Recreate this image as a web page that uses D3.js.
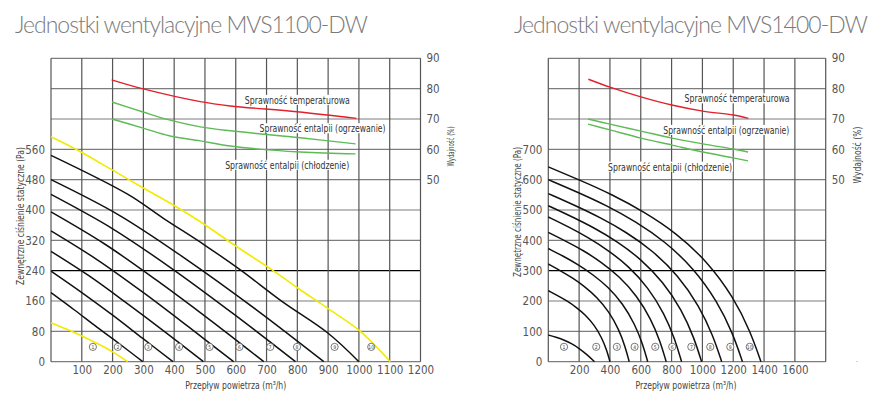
<!DOCTYPE html>
<html><head><meta charset="utf-8">
<script src="https://cdn.jsdelivr.net/npm/d3@7"></script>
<style>body{margin:0;background:#fff;} svg{display:block;}</style>
</head><body>
<svg id="c" width="881" height="399"></svg>
<script>
// ---------------- DATA ----------------
const titles = ["Jednostki wentylacyjne MVS1100-DW", "Jednostki wentylacyjne MVS1400-DW"];
const xTitle = "Przepływ powietrza (m³/h)";
const yTitle = "Zewnętrzne ciśnienie statyczne (Pa)";
const effTitle = "Wydajność (%)";
const effNames = ["Sprawność temperaturowa", "Sprawność entalpii (ogrzewanie)", "Sprawność entalpii (chłodzenie)"];
const effTicks = [90, 80, 70, 60, 50];

// Chart A: MVS1100-DW
const aXTicks = [100, 200, 300, 400, 500, 600, 700, 800, 900, 1000, 1100, 1200];
const aYTicks = [0, 80, 160, 240, 320, 400, 480, 560];
const aYellowLow = [[0,103],[50,86],[100,68],[150,48],[200,26],[249,0]];
const aYellowHigh = [[0,593],[81,560],[200,505],[300,458],[400,412],[485,369],[600,305],[718,242],[800,195],[900,140],[1000,83],[1102,0]];
const aFans = [
  [[0,182],[75,137],[149,91],[224,46],[298,0]],
  [[0,239],[99,183],[198,124],[297,62],[396,0]],
  [[0,291],[124,226],[248,153],[371,78],[495,0]],
  [[0,345],[148,270],[297,184],[445,93],[593,0]],
  [[0,395],[173,311],[346,213],[518,109],[691,0]],
  [[0,441],[199,351],[397,243],[596,124],[794,0]],
  [[0,480],[222,386],[443,268],[665,138],[886,0]],
  [[0,544],[250,441],[365,378],[500,307],[615,242],[750,159],[900,75],[1000,0]]
];
const aMarkers = [136, 217, 316, 416, 515, 612, 712, 799, 921, 1040];
const aTemp = [[197,82.9],[300,79.9],[485,75.7],[582,74.3],[799,72.4],[992,70.2]];
const aHeat = [[198,75.6],[299,72.3],[387,69.6],[485,67.4],[582,66.1],[810,63.8],[989,61.8]];
const aCool = [[198,70.0],[299,67.0],[387,64.4],[485,62.8],[582,61.1],[810,59.1],[989,58.5]];

// Chart B: MVS1400-DW
const bXTicks = [200, 400, 600, 800, 1000, 1200, 1400, 1600];
const bYTicks = [0, 100, 200, 300, 400, 500, 600, 700];
const bFans = [
  [[0,88],[50,81],[100,72],[150,60],[200,44],[250,24],[300,0]],
  [[0,234],[60,218],[120,201],[180,180],[240,155],[300,120],[348,78],[380,37],[400,0]],
  [[0,322],[79,300],[158,276],[236,248],[315,213],[394,165],[457,107],[499,50],[525,0]],
  [[0,373],[97,348],[194,320],[290,287],[387,247],[484,191],[561,124],[613,58],[645,0]],
  [[0,426],[115,397],[230,366],[344,328],[459,282],[574,218],[666,141],[727,66],[765,0]],
  [[0,477],[130,445],[260,409],[389,367],[519,316],[649,244],[753,158],[822,74],[865,0]],
  [[0,514],[149,479],[299,441],[448,396],[597,340],[746,263],[866,171],[945,80],[995,0]],
  [[0,554],[169,516],[338,475],[506,427],[675,367],[844,284],[979,184],[1069,86],[1125,0]],
  [[0,600],[189,559],[378,515],[567,462],[756,397],[945,307],[1096,199],[1197,94],[1260,0]],
  [[0,642],[207,598],[414,551],[621,494],[828,425],[1035,329],[1201,213],[1311,100],[1380,0]]
];
const bMarkers = [102, 311, 445, 560, 694, 804, 928, 1051, 1181, 1307];
const bTemp = [[260,83.1],[400,80.5],[606,77.2],[801,74.6],[1002,72.6],[1200,71.3],[1298,70.2]];
const bHeat = [[258,70.0],[400,68.3],[602,66.0],[803,63.7],[1004,61.8],[1199,60.1],[1296,59.1]];
const bCool = [[258,68.3],[400,66.4],[602,63.7],[803,61.4],[1004,59.1],[1199,57.2],[1296,56.2]];

// ---------------- DRAWING ----------------
const svg = d3.select("#c");
const NARROW = "'Liberation Sans Narrow','DejaVu Sans Condensed','Arial Narrow',sans-serif";
const TOP = 58.3, BOTTOM = 361.7;

function drawChart(cfg) {
  const g = svg.append("g");
  const x = d3.scaleLinear().domain([0, cfg.xMax]).range([cfg.left, cfg.right]);
  const y = d3.scaleLinear().domain([0, cfg.yMax]).range([BOTTOM, TOP]);
  const rowH = (BOTTOM - TOP) / (cfg.yMax / cfg.yStep);
  const ye = d3.scaleLinear().domain([90, 50]).range([TOP, TOP + 4 * rowH]);

  // title (tracking tightened to fit the reference width)
  const tt = g.append("text").attr("x", cfg.titleX).attr("y", 33)
    .attr("font-family", "Lato, 'Open Sans', sans-serif").attr("font-weight", 300)
    .attr("font-size", 23).attr("fill", "#7a7a7a")
    .text(cfg.title);
  const natural = tt.node().getComputedTextLength();
  tt.attr("letter-spacing", ((cfg.titleW - natural) / cfg.title.length).toFixed(3) + "px");

  // grid
  const grid = g.append("g");
  grid.selectAll("line.h").data(d3.range(0, cfg.yMax + 1, cfg.yStep)).join("line")
    .attr("x1", cfg.left).attr("x2", cfg.right)
    .attr("y1", d => y(d)).attr("y2", d => y(d))
    .attr("stroke", d => d === cfg.bold ? "#000" : "#7d7d7d")
    .attr("stroke-width", 1.2);
  grid.selectAll("line.v").data(d3.range(0, cfg.xMax + 1, cfg.xStep)).join("line")
    .attr("y1", TOP).attr("y2", BOTTOM)
    .attr("x1", d => x(d)).attr("x2", d => x(d))
    .attr("stroke", "#555").attr("stroke-width", 1.2);

  const labelLayer = g.append("g");
  const lineLayer = g.append("g");
  const textLayer = g.append("g");

  const effLine = d3.line().x(d => x(d[0])).y(d => ye(d[1])).curve(d3.curveCatmullRom.alpha(0.5));
  const pLine = d3.line().x(d => x(d[0])).y(d => y(d[1])).curve(d3.curveCatmullRom.alpha(0.5));
  const fanLine = d3.line().x(d => x(d[0])).y(d => y(d[1])).curve(d3.curveBasis);

  [[cfg.temp, "#e2202c"], [cfg.heat, "#5dbb55"], [cfg.cool, "#5dbb55"]].forEach(([data, col]) => {
    lineLayer.append("path").attr("d", effLine(data)).attr("fill", "none")
      .attr("stroke", col).attr("stroke-width", 1.4);
  });

  (cfg.yellow || []).forEach(data => {
    lineLayer.append("path").attr("d", pLine(data)).attr("fill", "none")
      .attr("stroke", "#f2ea00").attr("stroke-width", 1.6);
  });
  cfg.fans.forEach(data => {
    lineLayer.append("path").attr("d", (cfg.smoothFans ? fanLine : pLine)(data)).attr("fill", "none")
      .attr("stroke", "#111").attr("stroke-width", 1.5);
  });

  // markers
  const mk = lineLayer.selectAll("g.mk").data(cfg.markers).join("g")
    .attr("transform", d => `translate(${x(d)},${y(cfg.markerP)})`);
  mk.append("circle").attr("r", 3.6).attr("fill", "#fff").attr("stroke", "#555").attr("stroke-width", 0.8);
  mk.append("text").attr("text-anchor", "middle").attr("dy", "0.35em")
    .attr("font-family", NARROW).attr("font-size", 5).attr("fill", "#444")
    .text((d, i) => i + 1);

  // efficiency labels
  cfg.labels.forEach(([name, lv, lp, w]) => {
    const t = textLayer.append("text").attr("x", x(lv)).attr("y", ye(lp))
      .attr("text-anchor", "middle").attr("dominant-baseline", "central")
      .attr("font-family", NARROW).attr("font-size", 10.5).attr("fill", "#333")
      .attr("textLength", w).attr("lengthAdjust", "spacingAndGlyphs")
      .text(name);
    const bb = t.node().getBBox();
    labelLayer.append("rect").attr("x", bb.x - 1).attr("y", bb.y + 1)
      .attr("width", bb.width + 2).attr("height", bb.height - 2).attr("fill", "#fff");
  });

  // axes
  const fmt = d3.format("d");
  const axStyle = sel => {
    sel.select(".domain").remove();
    sel.selectAll("text").attr("font-family", NARROW).attr("font-size", 11.5).attr("fill", "#555");
  };
  g.append("g").attr("transform", `translate(${cfg.left},0)`)
    .call(d3.axisLeft(y).tickValues(cfg.yTicks).tickFormat(fmt).tickSize(0).tickPadding(6)).call(axStyle);
  g.append("g").attr("transform", `translate(0,${BOTTOM})`)
    .call(d3.axisBottom(x).tickValues(cfg.xTicks).tickFormat(fmt).tickSize(0).tickPadding(4)).call(axStyle);
  g.append("g").attr("transform", `translate(${cfg.right},0)`)
    .call(d3.axisRight(ye).tickValues(effTicks).tickFormat(fmt).tickSize(0).tickPadding(6)).call(axStyle);

  // axis titles
  const titleText = (px, py, rot, txt, fs, w) => g.append("text")
    .attr("transform", `translate(${px},${py}) rotate(${rot})`)
    .attr("text-anchor", "middle").attr("dominant-baseline", rot ? "central" : "auto")
    .attr("font-family", NARROW).attr("font-size", fs).attr("fill", "#444")
    .attr("textLength", w).attr("lengthAdjust", "spacingAndGlyphs").text(txt);
  titleText((cfg.left + cfg.right) / 2 + cfg.xtOff, 389, 0, xTitle, 10.5, 101);
  titleText(cfg.ytX, cfg.ytY, -90, yTitle, 10.5, cfg.ytW);
  titleText(cfg.etX, cfg.etY, -90, effTitle, cfg.etFs, cfg.etW);
}

drawChart({
  title: titles[0], titleX: 15, titleW: 352,
  left: 51, right: 420.5, xMax: 1200, xStep: 100, yMax: 800, yStep: 80, bold: 240,
  xTicks: aXTicks, yTicks: aYTicks, smoothFans: false,
  yellow: [aYellowLow, aYellowHigh], fans: aFans, markers: aMarkers, markerP: 39,
  temp: aTemp, heat: aHeat, cool: aCool,
  labels: [[effNames[0], 800, 76.3, 105], [effNames[1], 882, 66.95, 126], [effNames[2], 767, 54.9, 124]],
  xtOff: 0, ytX: 20, ytY: 216, ytW: 138, etX: 451, etY: 146.5, etFs: 9, etW: 40
});
drawChart({
  title: titles[1], titleX: 514, titleW: 353,
  left: 548.3, right: 825.7, xMax: 1800, xStep: 200, yMax: 1000, yStep: 100, bold: 300,
  xTicks: bXTicks, yTicks: bYTicks, smoothFans: true,
  yellow: [], fans: bFans, markers: bMarkers, markerP: 49,
  temp: bTemp, heat: bHeat, cool: bCool,
  labels: [[effNames[0], 1225, 76.8, 105], [effNames[1], 1155, 66.4, 126], [effNames[2], 790, 54.3, 124]],
  xtOff: -1, ytX: 517, ytY: 212, ytW: 130, etX: 857, etY: 155, etFs: 10.5, etW: 57
});
svg.append("text").attr("x", 856).attr("y", 362).attr("font-size", 8).attr("fill", "#777").text(".");
</script>
</body></html>
